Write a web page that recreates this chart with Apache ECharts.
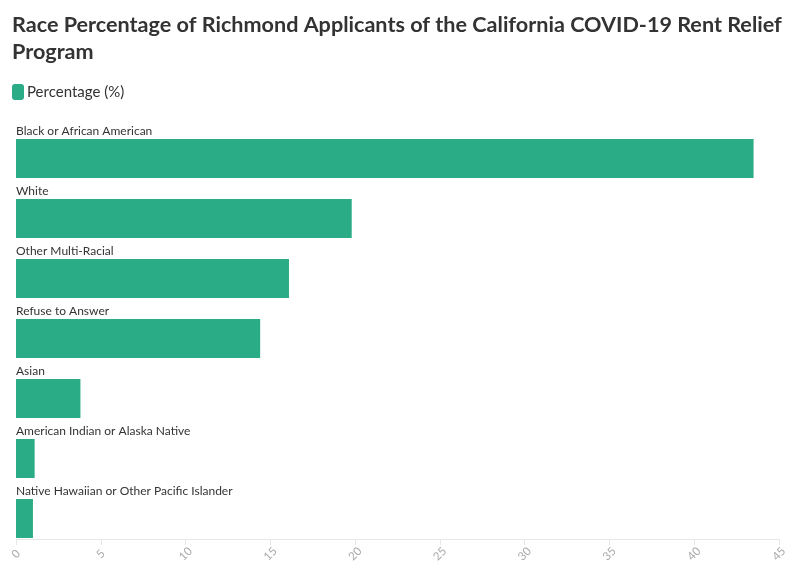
<!DOCTYPE html>
<html>
<head>
<meta charset="utf-8">
<script src="https://cdn.jsdelivr.net/npm/echarts@6/dist/echarts.min.js"></script>
<style>
  html, body { margin: 0; padding: 0; background: #fff; }
  #chart { width: 796px; height: 575px; }
</style>
</head>
<body>
<div id="chart"></div>
<script>
// race groups, top to bottom
const races = [
  'Black or African American',
  'White',
  'Other Multi-Racial',
  'Refuse to Answer',
  'Asian',
  'American Indian or Alaska Native',
  'Native Hawaiian or Other Pacific Islander'
]
const percentages = [43.5, 19.8, 16.1, 14.4, 3.8, 1.1, 1.0]
const xTicks = [0, 45, 5] // min, max, step

const green = '#2aad86'
const fontName = 'Lato'

var myChart = echarts.init(document.getElementById('chart'))

const option = {
  animation: false,
  title: {
    text: 'Race Percentage of Richmond Applicants of the California COVID-19 Rent Relief\nProgram',
    left: 7,
    top: 7,
    textStyle: {
      fontFamily: fontName,
      fontWeight: 'bold',
      fontSize: 21.6,
      lineHeight: 27,
      color: '#333'
    }
  },
  legend: {
    left: 7,
    top: 79,
    itemWidth: 12,
    itemHeight: 16,
    itemGap: 10,
    icon: 'roundRect',
    textStyle: {
      fontFamily: fontName,
      fontSize: 15,
      color: '#333',
      padding: [0, 0, 0, -2]
    },
    data: ['Percentage (%)']
  },
  grid: {
    left: 16,
    right: 17,
    top: 128.5,
    bottom: 26.5,
    containLabel: false
  },
  xAxis: {
    type: 'value',
    min: xTicks[0],
    max: xTicks[1],
    interval: xTicks[2],
    offset: -9.5,
    axisLine: { show: true, lineStyle: { color: '#e6e6e6' } },
    axisTick: { show: true, length: 6, lineStyle: { color: '#e6e6e6' } },
    splitLine: { show: false },
    axisLabel: {
      rotate: 45,
      align: 'center',
      verticalAlign: 'middle',
      color: '#aaa',
      fontFamily: fontName,
      fontSize: 11.5,
      margin: 15
    }
  },
  yAxis: {
    type: 'category',
    inverse: true,
    data: races,
    axisLine: { show: false },
    axisTick: { show: false },
    axisLabel: { show: false }
  },
  series: [
    {
      name: 'Percentage (%)',
      type: 'bar',
      data: percentages,
      barWidth: 39,
      itemStyle: { color: green },
      label: {
        show: true,
        position: [0, -8],
        verticalAlign: 'middle',
        align: 'left',
        formatter: '{b}',
        fontFamily: fontName,
        fontSize: 12,
        color: '#333'
      }
    }
  ]
}

option && myChart.setOption(option)
</script>
</body>
</html>
